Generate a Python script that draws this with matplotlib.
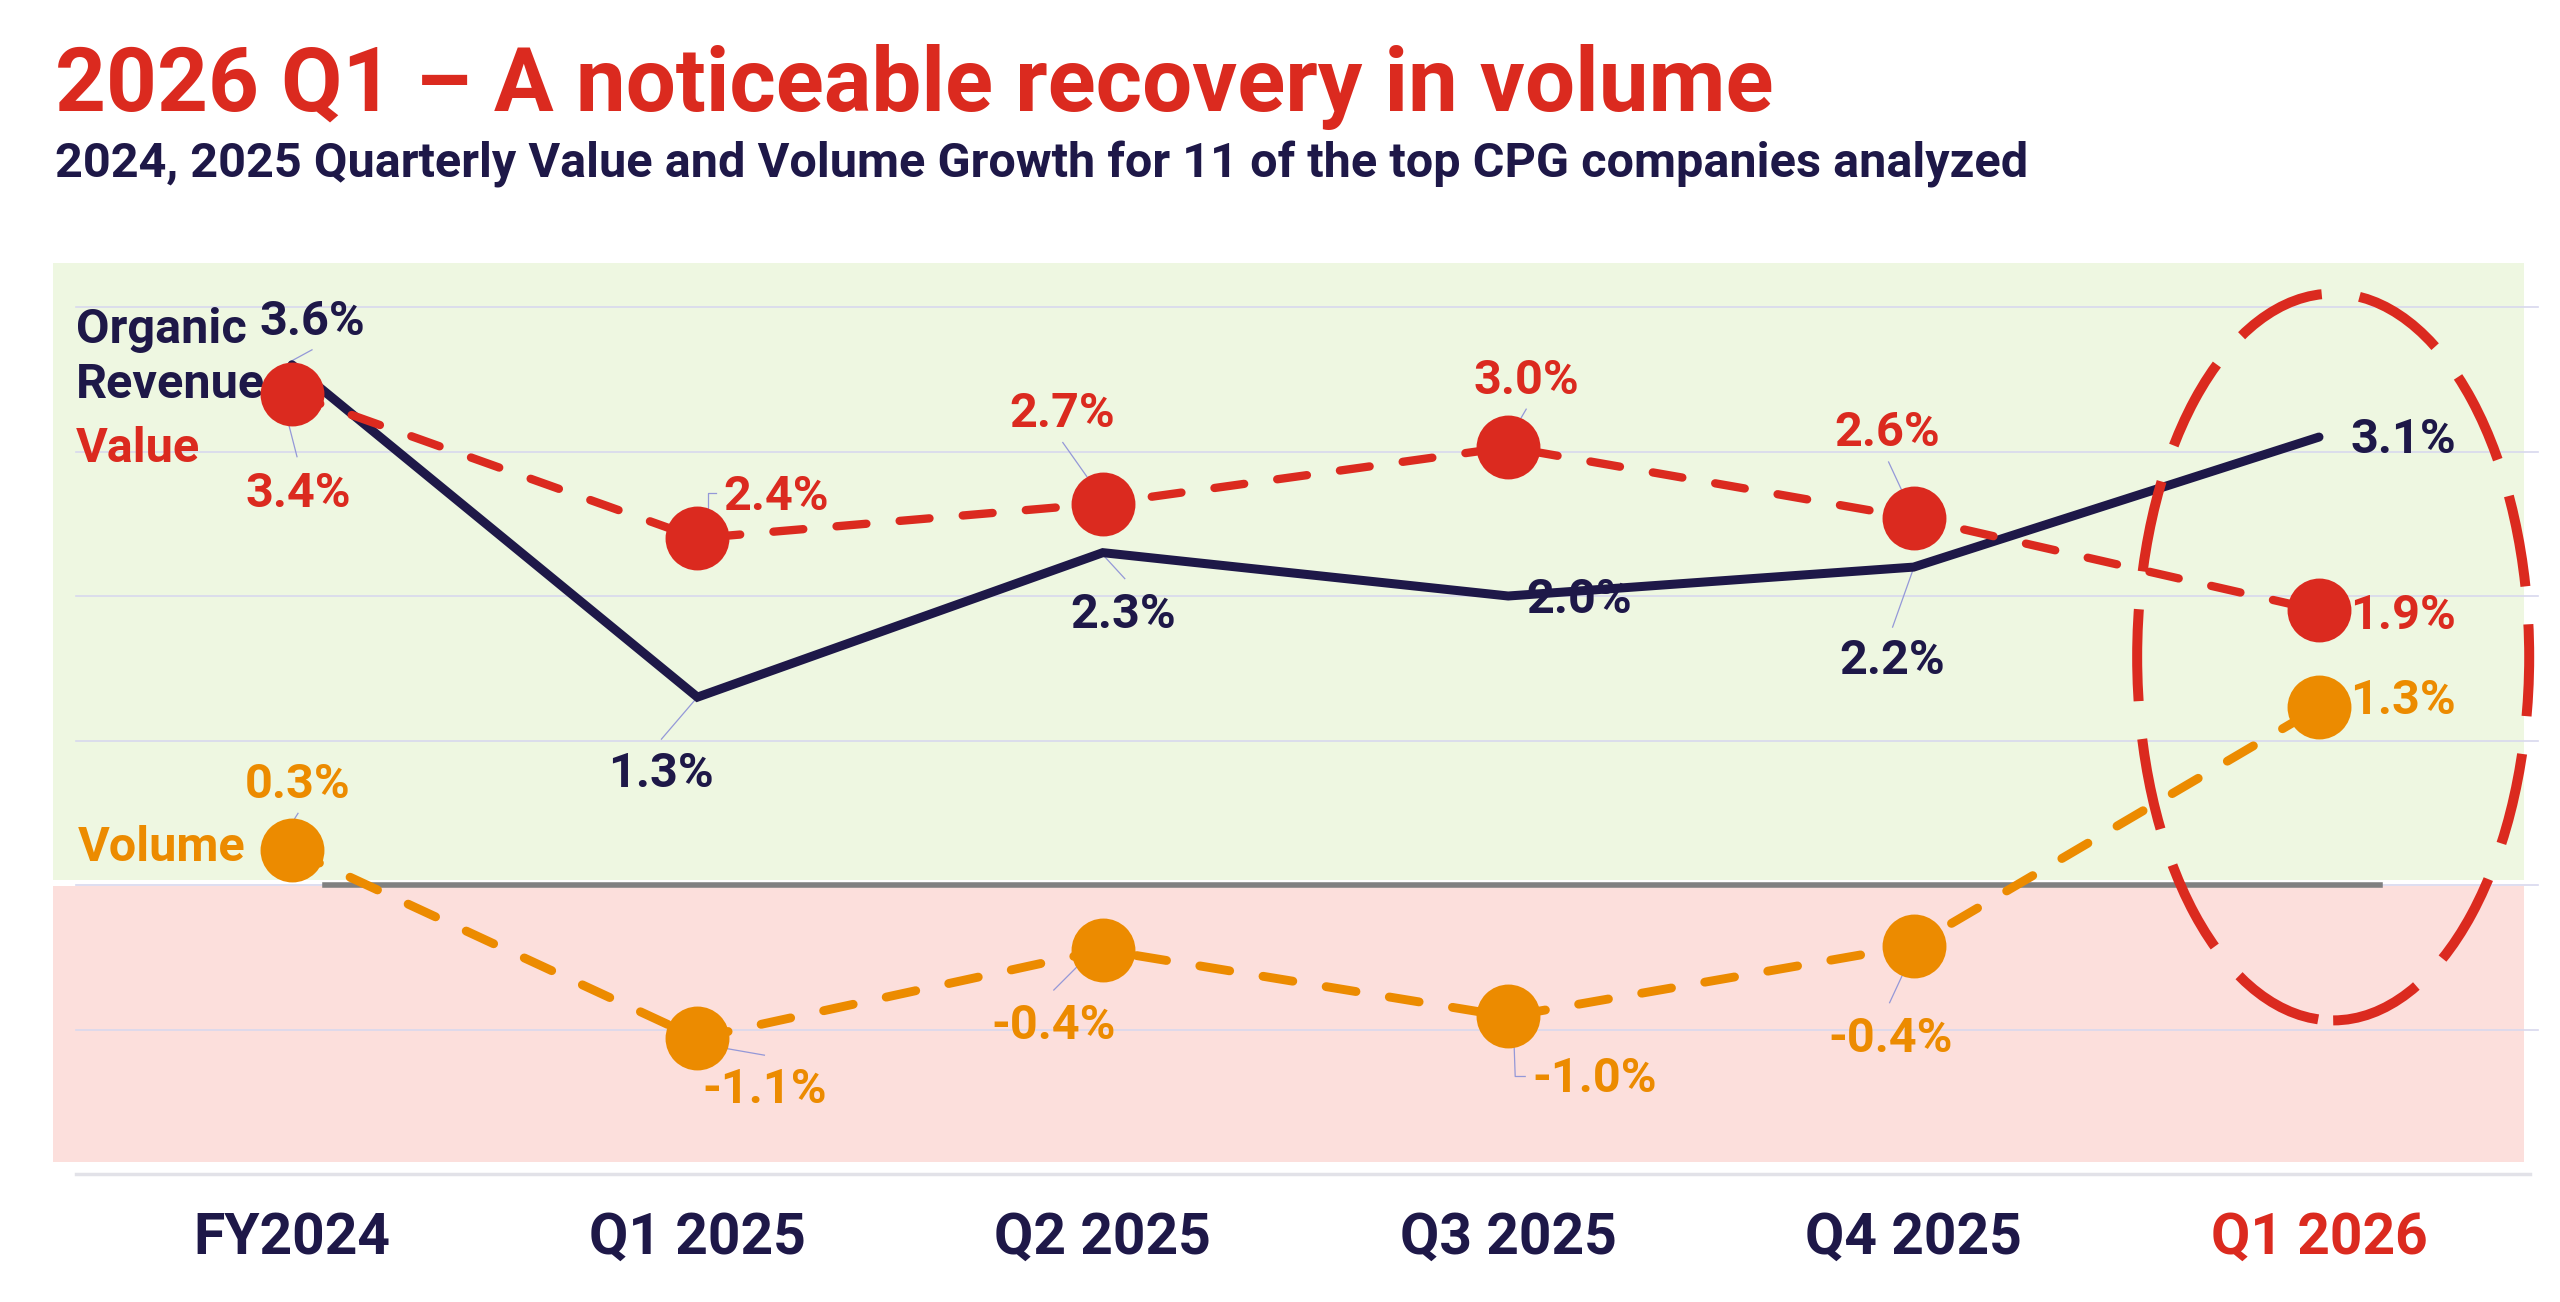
import matplotlib
matplotlib.use("Agg")
import matplotlib.pyplot as plt
import matplotlib.transforms as mtransforms
from matplotlib.lines import Line2D
from matplotlib.patches import Rectangle, Ellipse

plt.rcParams['font.family'] = ['Roboto', 'DejaVu Sans']
plt.rcParams['font.weight'] = 'bold'

categories = ["FY2024", "Q1 2025", "Q2 2025", "Q3 2025", "Q4 2025", "Q1 2026"]
organic = [3.6, 1.3, 2.3, 2.0, 2.2, 3.1]
value = [3.4, 2.4, 2.64, 3.03, 2.54, 1.9]
volume = [0.24, -1.06, -0.45, -0.91, -0.42, 1.23]
organic_labels = ["3.6%", "1.3%", "2.3%", "2.0%", "2.2%", "3.1%"]
value_labels = ["3.4%", "2.4%", "2.7%", "3.0%", "2.6%", "1.9%"]
volume_labels = ["0.3%", "-1.1%", "-0.4%", "-1.0%", "-0.4%", "1.3%"]

RED = '#DB2A1F'
NAVY = '#1E1848'
ORANGE = '#EC8B00'
GREEN_BG = '#EEF7E1'
PINK_BG = '#FCDFDC'
GRID = '#D8D8EE'
LEADER = '#9498D8'
LBL = 35

# label placement: (dx, dy, leader points) in pixels from the point, dy downward
organic_pos = [(20, -30, [(-2, -3), (20, -15)]),
               (-36, 90, [(0, 0), (-36, 42)]),
               (20, 75, [(0, 2), (22, 26)]),
               (71, 17, None),
               (-21, 107, [(0, 1), (-21, 60)]),
               (84, 16, None)]
value_pos = [(6, 113, [(-4, 28), (5, 63)]),
             (79, -28, [(11, 0), (11, -45), (19, -45)]),
             (-41, -77, [(-40, -61), (-16, -27)]),
             (18, -53, [(18, -38), (11, -26)]),
             (-26, -72, [(-25, -56), (-12, -28)]),
             (84, 19, None)]
volume_pos = [(6, -52, [(6, -37), (1, -29)]),
              (67, 65, [(27, 10), (67, 17)]),
              (-49, 89, [(-24, 15), (-49, 40)]),
              (86, 76, [(6, 31), (7, 60), (17, 60)]),
              (-23, 106, [(-11, 29), (-24, 57)]),
              (84, 7, None)]

W, H = 2560, 1302
fig = plt.figure(figsize=(W / 100, H / 100), dpi=100)
ax = fig.add_axes([0, 0, 1, 1])
ax.set_xlim(-0.7203, 5.5945)
ax.set_ylim(-2.8858, 6.1246)
ax.axis('off')

x = list(range(len(categories)))

# zones
ax.add_patch(Rectangle((-0.5895, 0.035), 6.095, 4.27, color=GREEN_BG, lw=0, zorder=0))
ax.add_patch(Rectangle((-0.5895, -1.917), 6.095, 1.912, color=PINK_BG, lw=0, zorder=0))
for g in range(-1, 5):
    ax.plot([-0.533, 5.54], [g, g], color=GRID, lw=1.2, zorder=1)
ax.plot([-0.533, 5.52], [-2, -2], color='#E2E2E8', lw=2.5, zorder=1)
ax.plot([0.081, 5.15], [0, 0], color='#808080', lw=4, zorder=2)

ax.plot(x, organic, color=NAVY, lw=6.5, solid_capstyle='round', solid_joinstyle='miter', zorder=4.8)
ax.plot(x, value, color=RED, lw=6, dashes=(3.6, 4.0), dash_capstyle='round', zorder=5)
ax.plot(x, volume, color=ORANGE, lw=6.4, dashes=(3.4, 3.8), dash_capstyle='round', zorder=5)
ax.plot(x, value, 'o', color=RED, ms=46, mew=0, zorder=6)
ax.plot(x, volume, 'o', color=ORANGE, ms=46, mew=0, zorder=6)


def put_labels(vals, labels, pos, color):
    for i, (v, lbl, (dx, dy, pts)) in enumerate(zip(vals, labels, pos)):
        ax.annotate(lbl, xy=(i, v), xytext=(dx, -dy), textcoords='offset pixels',
                    ha='center', va='baseline', fontsize=LBL, color=color, zorder=4)
        if pts:
            bx, by = ax.transData.transform((i, v))
            ln = Line2D([bx + p[0] for p in pts], [by - p[1] for p in pts],
                        transform=mtransforms.IdentityTransform(),
                        color=LEADER, lw=0.9, zorder=4.5)
            ax.add_artist(ln)


put_labels(organic, organic_labels, organic_pos, NAVY)
put_labels(value, value_labels, value_pos, RED)
put_labels(volume, volume_labels, volume_pos, ORANGE)

ax.add_patch(Ellipse((5.035, 1.578), 0.967, 5.03, fill=False, edgecolor=RED, lw=7.2,
                     linestyle=(0, (9.2, 3.8)), zorder=7))


def fpos(px, py):
    return px / W, 1 - py / H


# series names
ax.text(*fpos(76, 343), "Organic", transform=fig.transFigure, fontsize=LBL, color=NAVY, va='baseline', zorder=4)
ax.text(*fpos(76, 398), "Revenue", transform=fig.transFigure, fontsize=LBL, color=NAVY, va='baseline', zorder=4)
ax.text(*fpos(76, 462), "Value", transform=fig.transFigure, fontsize=LBL, color=RED, va='baseline', zorder=4)
ax.text(*fpos(78, 861), "Volume", transform=fig.transFigure, fontsize=LBL, color=ORANGE, va='baseline', zorder=4)

for i, cat in enumerate(categories):
    ax.text(i, -2.554, cat, ha='center', va='baseline', fontsize=41,
            color=RED if i == len(categories) - 1 else NAVY)

fig.text(*fpos(55, 111), "2026 Q1 \u2013 A noticeable recovery in volume", fontsize=64, color=RED, va='baseline')
fig.text(*fpos(55, 178), "2024, 2025 Quarterly Value and Volume Growth for 11 of the top CPG companies analyzed",
         fontsize=35, color=NAVY, va='baseline')

fig.savefig("out.png", dpi=100, facecolor='white')
